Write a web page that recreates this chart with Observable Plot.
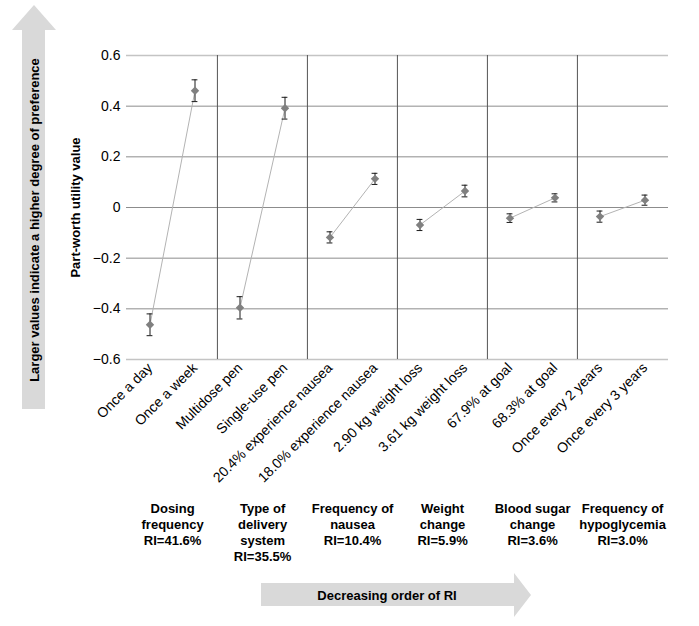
<!DOCTYPE html>
<html>
<head>
<meta charset="utf-8">
<script src="https://cdn.jsdelivr.net/npm/d3@7"></script>
<script src="https://cdn.jsdelivr.net/npm/@observablehq/plot@0.6"></script>
<style>
  body { margin: 0; background: #fff; }
  #chart svg { display: block; }
</style>
</head>
<body>
<div id="chart"></div>
<script>
// ---- data ----
const categories = [
  "Once a day", "Once a week",
  "Multidose pen", "Single-use pen",
  "20.4% experience nausea", "18.0% experience nausea",
  "2.90 kg weight loss", "3.61 kg weight loss",
  "67.9% at goal", "68.3% at goal",
  "Once every 2 years", "Once every 3 years"
];
const values = [-0.463, 0.461, -0.396, 0.392, -0.118, 0.113, -0.069, 0.065, -0.042, 0.038, -0.036, 0.029];
const errors = [0.043, 0.043, 0.044, 0.043, 0.022, 0.022, 0.022, 0.023, 0.017, 0.016, 0.022, 0.020];
const attributeLabels = [
  "Dosing\nfrequency\nRI=41.6%",
  "Type of\ndelivery\nsystem\nRI=35.5%",
  "Frequency of\nnausea\nRI=10.4%",
  "Weight\nchange\nRI=5.9%",
  "Blood sugar\nchange\nRI=3.6%",
  "Frequency of\nhypoglycemia\nRI=3.0%"
];
const yTicks = [-0.6, -0.4, -0.2, 0, 0.2, 0.4, 0.6];
const yLabel = "Part-worth utility value";
const sideArrowText = "Larger values indicate a higher degree of preference";
const bottomArrowText = "Decreasing order of RI";

// ---- derived tables ----
const data = categories.map((c, i) => ({
  cat: c, value: values[i], err: errors[i], group: Math.floor(i / 2)
}));
const groups = attributeLabels.map((label, g) => ({ first: categories[g * 2], label }));
const dividers = groups.slice(1).map(g => g.first);

const W = 699, H = 626;
const mL = 126, mR = 31, mT = 55, mB = 267;
const bw = (W - mL - mR) / categories.length;
const font = "'Liberation Sans', Arial, Helvetica, sans-serif";
const fmtY = d => d === 0 ? "0" : d3.format(".1f")(d).replace("-", "\u2212");

const chart = Plot.plot({
  width: W, height: H,
  marginTop: mT, marginBottom: mB, marginLeft: mL, marginRight: mR,
  style: { fontFamily: font, fontSize: "14px", color: "#000", background: "#fff", overflow: "visible" },
  x: { domain: categories, padding: 0, label: null, tickRotate: -45, tickSize: 0, tickPadding: 6 },
  y: { domain: [-0.6, 0.6], ticks: yTicks, tickFormat: fmtY, label: null, tickSize: 0, tickPadding: 6 },
  marks: [
    Plot.ruleY(yTicks.slice(1, -1), { stroke: "#8c8c8c", strokeWidth: 1 }),
    Plot.ruleY([yTicks[0], yTicks[yTicks.length - 1]], { stroke: "#c4c4c4", strokeWidth: 1.6 }),
    Plot.ruleX(dividers, { x: d => d, dx: -bw / 2, y1: -0.6, y2: 0.6, stroke: "#555", strokeWidth: 1 }),
    Plot.line(data, { x: "cat", y: "value", z: "group", stroke: "#b3b3b3", strokeWidth: 1 }),
    Plot.ruleX(data, { x: "cat", y1: d => d.value - d.err, y2: d => d.value + d.err, stroke: "#1a1a1a", strokeWidth: 1 }),
    Plot.tickY(data, { x: "cat", y: d => d.value - d.err, stroke: "#1a1a1a", insetLeft: bw / 2 - 3, insetRight: bw / 2 - 3 }),
    Plot.tickY(data, { x: "cat", y: d => d.value + d.err, stroke: "#1a1a1a", insetLeft: bw / 2 - 3, insetRight: bw / 2 - 3 }),
    Plot.dot(data, { x: "cat", y: "value", symbol: "diamond2", r: 3.8, fill: "#808080", stroke: "none" }),
    Plot.text([yLabel], { text: d => d, frameAnchor: "left", textAnchor: "middle", rotate: -90, dx: -51, fontWeight: "bold", fontSize: 13 }),
    Plot.text(groups, { x: "first", text: "label", dx: bw / 2, frameAnchor: "bottom", lineAnchor: "top", dy: 142, fontWeight: "bold", fontSize: 13, lineHeight: 1.23 })
  ]
});

document.getElementById("chart").appendChild(chart);

// ---- decorative arrows (annotations) ----
const svg = d3.select(chart);
const deco = svg.insert("g", ":first-child");
deco.append("polygon")
  .attr("points", "22,409 22,30 12,30 34,5 56,30 45,30 45,409")
  .attr("fill", "#d9d9d9");
deco.append("text")
  .attr("transform", "translate(34,220) rotate(-90)")
  .attr("text-anchor", "middle").attr("dominant-baseline", "central")
  .attr("font-family", font).attr("font-size", 13).attr("font-weight", "bold")
  .text(sideArrowText);
deco.append("polygon")
  .attr("points", "261,583 514,583 514,573 531,595 514,617 514,606 261,606")
  .attr("fill", "#d9d9d9");
deco.append("text")
  .attr("x", 387).attr("y", 595)
  .attr("text-anchor", "middle").attr("dominant-baseline", "central")
  .attr("font-family", font).attr("font-size", 13).attr("font-weight", "bold")
  .text(bottomArrowText);
</script>
</body>
</html>
